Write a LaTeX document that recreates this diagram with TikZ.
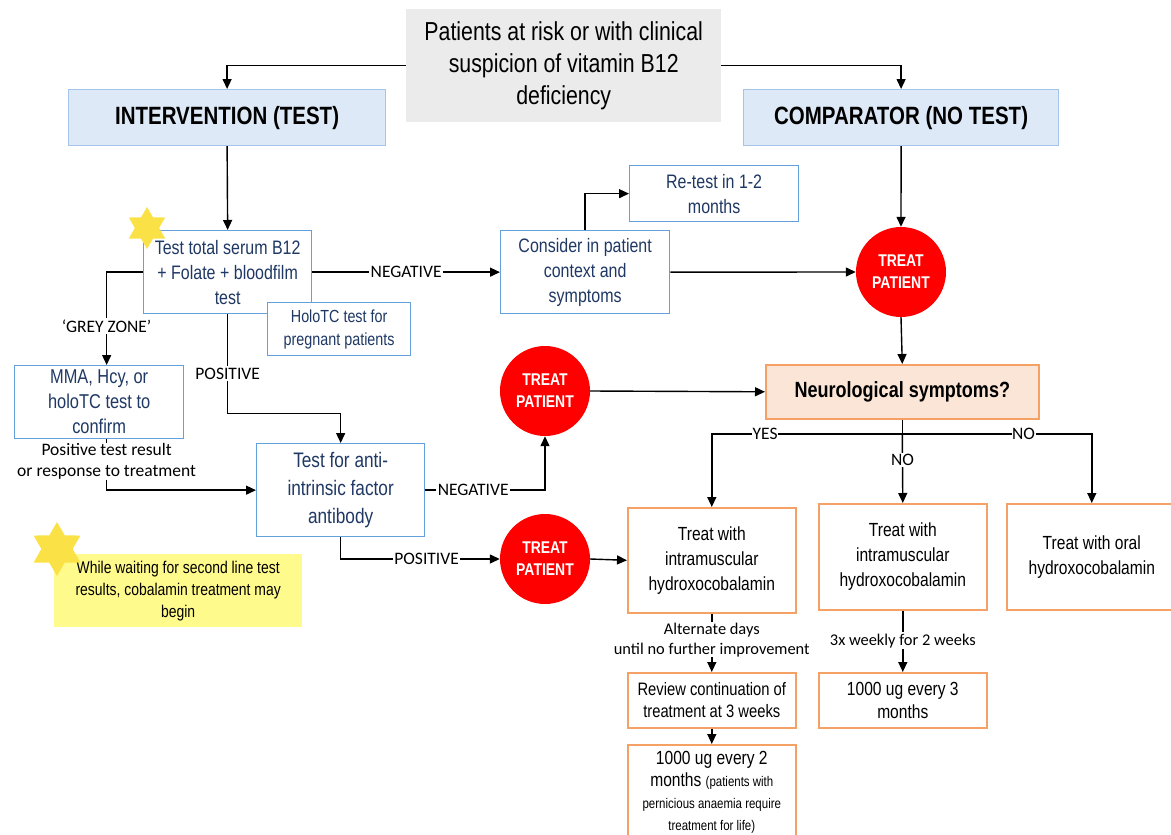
\documentclass[tikz,border=0pt]{standalone}
\usepackage{fontspec}
\setmainfont{Liberation Sans}
\newfontfamily\narrow{Liberation Sans}[FakeStretch=0.82]
\newfontfamily\calib{Carlito}
\usetikzlibrary{arrows.meta,shapes.geometric}
\definecolor{topgray}{RGB}{235,235,235}
\definecolor{hdrfill}{RGB}{221,233,246}
\definecolor{hdrline}{RGB}{164,196,234}
\definecolor{bline}{RGB}{100,160,220}
\definecolor{navy}{RGB}{31,56,100}
\definecolor{oline}{RGB}{245,160,100}
\definecolor{ofill}{RGB}{251,229,214}
\definecolor{notefill}{RGB}{255,250,140}
\definecolor{starcol}{RGB}{250,226,70}
\definecolor{redc}{RGB}{255,0,0}
\tikzset{
  ln/.style={line width=1.4pt, draw=black},
  arr/.style={ln, -{Triangle[length=10pt,width=9pt]}},
  boxat/.style 2 args={minimum width=#1, minimum height=#2, anchor=north west},
  topbox/.style={fill=topgray, inner sep=0, align=center, font=\narrow\fontsize{26}{32}\selectfont},
  hdr/.style={draw=hdrline, fill=hdrfill, line width=1.2pt, inner sep=0, align=center, font=\narrow\bfseries\fontsize{25}{30}\selectfont},
  bbox/.style={draw=bline, line width=1.3pt, fill=white, text=navy, inner sep=0, align=center, font=\narrow\fontsize{19.5}{25}\selectfont},
  obox/.style={draw=oline, line width=1.6pt, fill=white, inner sep=0, align=center, font=\narrow\fontsize{19}{25}\selectfont},
  treat/.style={circle, fill=redc, minimum size=90pt, inner sep=0, text=white, align=center, font=\narrow\bfseries\fontsize{17}{22}\selectfont},
  lab/.style={fill=white, inner sep=1.5pt, align=center, font=\calib\fontsize{17.5}{21}\selectfont},
  starnode/.style={star, star points=6, star point ratio=1.73, fill=starcol, inner sep=0, minimum size=#1},
}
\begin{document}
\begin{tikzpicture}[x=1pt,y=-1pt]
\useasboundingbox (0,0) rectangle (1171,835);

% header row
\node[topbox, boxat={315pt}{113pt}] (top) at (406,9) {Patients at risk or with clinical\\suspicion of vitamin B12\\deficiency};
\node[hdr, boxat={317pt}{56pt}] (int) at (68,89) {INTERVENTION (TEST)};
\node[hdr, boxat={315pt}{56pt}] (comp) at (743,89) {COMPARATOR (NO TEST)};

% test column
\node[bbox, boxat={168pt}{83pt}] (tt) at (143,230) {Test total serum B12\\+ Folate + bloodfilm\\test};
\node[bbox, boxat={143pt}{53pt}, font=\narrow\fontsize{17.5}{23}\selectfont] (holo) at (267,302) {HoloTC test for\\pregnant patients};
\node[bbox, boxat={169pt}{83pt}] (cons) at (500,230) {Consider in patient\\context and\\symptoms};
\node[bbox, boxat={169pt}{56pt}] (retest) at (629,165) {Re-test in 1-2\\months};
\node[bbox, boxat={169pt}{73pt}, font=\narrow\fontsize{20}{25}\selectfont] (mma) at (14,365) {MMA, Hcy, or\\holoTC test to\\confirm};
\node[bbox, boxat={168pt}{93pt}, font=\narrow\fontsize{21}{28}\selectfont] (anti) at (256,443) {Test for anti-\\intrinsic factor\\antibody};

% treat circles
\node[treat] (t1) at (901,272) {TREAT\\PATIENT};
\node[treat] (t2) at (545,391) {TREAT\\PATIENT};
\node[treat] (t3) at (545,559) {TREAT\\PATIENT};

% neurological
\node[obox, fill=ofill, boxat={273pt}{54pt}, font=\narrow\bfseries\fontsize{22}{26}\selectfont] (neuro) at (765,364) {Neurological symptoms?};
\node[obox, boxat={168pt}{105pt}] (tr1) at (627,507) {Treat with\\intramuscular\\hydroxocobalamin};
\node[obox, boxat={168pt}{106pt}] (tr2) at (818,503) {Treat with\\intramuscular\\hydroxocobalamin};
\node[obox, boxat={170pt}{106pt}] (tr3) at (1006,503) {Treat with oral\\hydroxocobalamin};
\node[obox, boxat={168pt}{55pt}, font=\narrow\fontsize{18}{22}\selectfont] (rev) at (627,672) {Review continuation of\\treatment at 3 weeks};
\node[obox, boxat={168pt}{95pt}, font=\narrow\fontsize{19}{22}\selectfont] (m2) at (627,744) {1000 ug every 2\\months {\fontsize{14}{20}\selectfont (patients with}\\{\fontsize{14}{20}\selectfont pernicious anaemia require}\\{\fontsize{14}{20}\selectfont treatment for life)}};
\node[obox, boxat={168pt}{55pt}, font=\narrow\fontsize{19}{23}\selectfont] (m3) at (818,672) {1000 ug every 3\\months};

% note
\node[fill=notefill, boxat={248pt}{73pt}, inner sep=0, align=center, font=\narrow\fontsize{17}{22}\selectfont] (note) at (54,554) {While waiting for second line test\\results, cobalamin treatment may\\begin};

% stars
\node[starnode=42pt] (s1) at (147,228) {};
\node[starnode=54pt] (s2) at (57,549) {};

% connectors
\draw[arr] (top.west) -| (int.north);
\draw[arr] (top.east) -| (comp.north);
\draw[arr] (int.south) -- (tt.north);
\draw[arr] (tt.east) -- node[lab]{NEGATIVE} (cons.west);
\draw[arr] (cons.north) |- (retest.west);
\draw[arr] (cons.east) -- (t1.west);
\draw[arr] (comp.south) -- (t1.north);
\draw[arr] (t1.south) -- (neuro.north);
\draw[arr] (tt.west) -| node[lab, pos=0.79]{‘GREY ZONE’} ([xshift=7.5]mma.north);
\draw[arr] ([xshift=7.5]mma.south) |- node[lab, pos=0.22, inner sep=0.5pt]{Positive test result\\or response to treatment} (anti.west);
\draw[arr] (tt.south) -- node[lab, pos=0.6]{POSITIVE} ++(0,99) -| (anti.north);
\draw[arr] (anti.east) -| node[lab, pos=0.2]{NEGATIVE} (t2.south);
\draw[arr] (anti.south) |- node[lab, pos=0.77]{POSITIVE} (t3.west);
\draw[arr] (t2.east) -- (neuro.west);
\draw[arr] (t3.east) -- (tr1.west);
\coordinate (br) at (neuro.south |- 0,434);
\draw[ln] (neuro.south) -- (br);
\draw[arr] (br) -| node[lab, pos=0.36, inner sep=0.5pt]{YES} (tr1.north);
\draw[arr] (br) -- node[lab, pos=0.38]{NO} (tr2.north);
\draw[arr] (br) -| node[lab, pos=0.32, inner sep=0.5pt]{NO} (tr3.north);
\draw[arr] (tr1.south) -- node[lab, pos=0.45, font=\calib\fontsize{16.4}{20}\selectfont, inner sep=0.5pt]{Alternate days\\until no further improvement} (rev.north);
\draw[arr] (rev.south) -- (m2.north);
\draw[arr] (tr2.south) -- node[lab, pos=0.49, font=\calib\fontsize{16.4}{19}\selectfont]{3x weekly for 2 weeks} (m3.north);
\end{tikzpicture}
\end{document}
